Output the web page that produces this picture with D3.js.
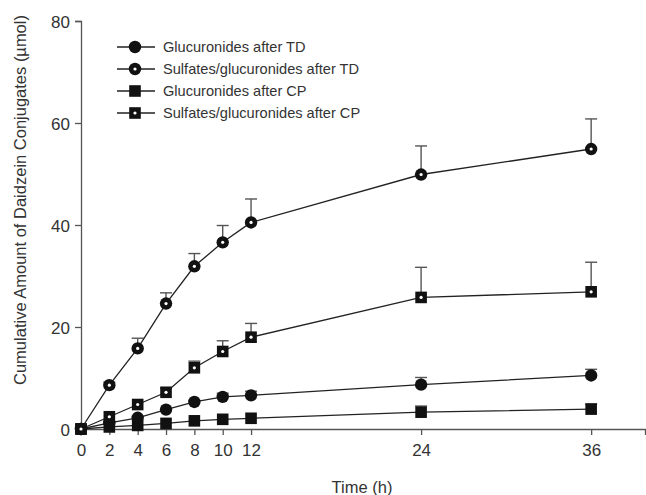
<!DOCTYPE html>
<html>
<head>
<meta charset="utf-8">
<script src="https://cdn.jsdelivr.net/npm/d3@7"></script>
<style>
body { margin: 0; background: #fff; }
text { font-family: "Liberation Sans", Arial, sans-serif; fill: #333; }
</style>
</head>
<body>
<svg id="chart" width="646" height="495"></svg>
<script>
const hours = [0, 2, 4, 6, 8, 10, 12, 24, 36];
const seriesNames = ["Glucuronides after TD", "Sulfates/glucuronides after TD", "Glucuronides after CP", "Sulfates/glucuronides after CP"];
const glucTD = [0, 1.2, 2.2, 3.8, 5.3, 6.3, 6.6, 8.7, 10.5];
const glucTDErr = [0, 0, 0, 0, 0, 0.7, 0.8, 1.4, 1.2];
const sulfTD = [0, 8.6, 15.8, 24.6, 31.9, 36.6, 40.5, 49.9, 54.9];
const sulfTDErr = [0, 0.6, 2.0, 2.1, 2.5, 3.3, 4.6, 5.6, 5.9];
const glucCP = [0, 0.4, 0.7, 1.1, 1.6, 1.9, 2.1, 3.3, 3.9];
const glucCPErr = [0, 0, 0, 0, 0, 0, 0, 1.2, 1.0];
const sulfCP = [0, 2.4, 4.8, 7.2, 12.0, 15.2, 18.0, 25.8, 26.9];
const sulfCPErr = [0, 0, 0, 0.8, 1.3, 2.1, 2.7, 5.9, 5.8];
const yTicks = [0, 20, 40, 60, 80];
const xTicks = [0, 2, 4, 6, 8, 10, 12, 24, 36];

const series = [
  { name: seriesNames[0], vals: glucTD, err: glucTDErr, shape: "circle", dot: false },
  { name: seriesNames[1], vals: sulfTD, err: sulfTDErr, shape: "circle", dot: true },
  { name: seriesNames[2], vals: glucCP, err: glucCPErr, shape: "square", dot: false },
  { name: seriesNames[3], vals: sulfCP, err: sulfCPErr, shape: "square", dot: true }
];

const svg = d3.select("#chart");
const x = d3.scaleLinear().domain([0, 39.8]).range([81, 645]);
const y = d3.scaleLinear().domain([0, 80]).range([429, 21]);

const axisColor = "#555";

const yAxis = svg.append("g").attr("transform", `translate(${x(0)},0)`)
  .call(d3.axisLeft(y).tickValues(yTicks).tickSize(6).tickPadding(5).tickFormat(d3.format("d")));
const xAxis = svg.append("g").attr("transform", `translate(0,${y(0)})`)
  .call(d3.axisBottom(x).tickValues(xTicks).tickSize(6).tickPadding(9).tickFormat(d3.format("d")));
[yAxis, xAxis].forEach(g => {
  g.select(".domain").attr("stroke", axisColor).attr("stroke-width", 1.3);
  g.selectAll(".tick line").attr("stroke", axisColor).attr("stroke-width", 1.3);
  g.selectAll(".tick text").style("font-size", "17px").style("font-family", "Liberation Sans, Arial, sans-serif").attr("fill", "#333");
});
yAxis.selectAll(".tick text").attr("dy", "0.36em");

svg.append("text").attr("x", 362).attr("y", 493).attr("text-anchor", "middle")
  .style("font-size", "16.5px").text("Time (h)");
svg.append("text").attr("transform", `translate(26,${200}) rotate(-90)`).attr("text-anchor", "middle")
  .style("font-size", "16.5px").text("Cumulative Amount of Daidzein Conjugates (µmol)");

const line = d3.line().x((d, i) => x(hours[i])).y(d => y(d));

function drawMarker(g, shape, dot, cx, cy) {
  if (shape === "circle") {
    g.append("circle").attr("cx", cx).attr("cy", cy).attr("r", 6.2).attr("fill", "#111");
  } else {
    g.append("rect").attr("x", cx - 5.8).attr("y", cy - 5.8).attr("width", 11.6).attr("height", 11.6).attr("fill", "#111");
  }
  if (dot) {
    g.append("circle").attr("cx", cx).attr("cy", cy).attr("r", 1.6).attr("fill", "#fff");
  }
}

const plot = svg.append("g");
series.forEach(s => {
  s.vals.forEach((v, i) => {
    if (s.err[i] > 0) {
      const top = y(v + s.err[i]);
      plot.append("line").attr("x1", x(hours[i])).attr("x2", x(hours[i]))
        .attr("y1", y(v)).attr("y2", top).attr("stroke", "#555").attr("stroke-width", 1.4);
      plot.append("line").attr("x1", x(hours[i]) - 6).attr("x2", x(hours[i]) + 6)
        .attr("y1", top).attr("y2", top).attr("stroke", "#555").attr("stroke-width", 1.4);
    }
  });
});
series.forEach(s => {
  plot.append("path").datum(s.vals).attr("d", line).attr("fill", "none")
    .attr("stroke", "#222").attr("stroke-width", 1.3);
});
series.forEach(s => {
  s.vals.forEach((v, i) => drawMarker(plot, s.shape, s.dot, x(hours[i]), y(v)));
});

const legY = [47, 69, 91, 113];
const leg = svg.append("g");
series.forEach((s, i) => {
  leg.append("line").attr("x1", 117).attr("x2", 155).attr("y1", legY[i]).attr("y2", legY[i])
    .attr("stroke", "#222").attr("stroke-width", 1.3);
  drawMarker(leg, s.shape, s.dot, 135, legY[i]);
  leg.append("text").attr("x", 163).attr("y", legY[i]).attr("dy", "0.36em")
    .style("font-size", "14.6px").text(s.name);
});
</script>
</body>
</html>
